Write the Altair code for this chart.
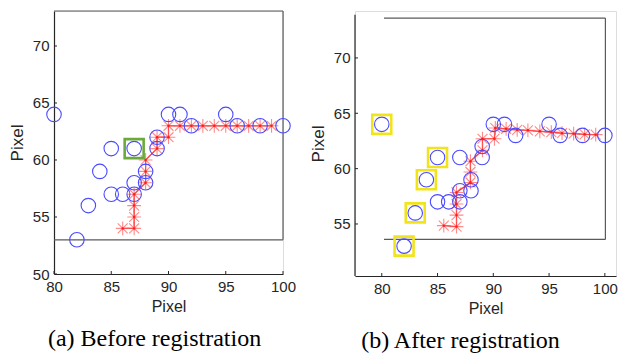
import altair as alt
import pandas as pd

# ---- data ----
blue_x = [80, 82, 83, 84, 85, 85, 86, 87, 87, 87, 88, 88, 89, 89, 90, 91, 92, 95, 96, 98, 100]
blue_y = [64, 53, 56, 59, 61, 57, 57, 61, 58, 57, 59, 58, 62, 61, 64, 64, 63, 64, 63, 63, 63]

red_a_x = [86, 87, 87, 87, 87, 88, 88, 88, 89, 89, 90, 90, 91, 92, 93, 94, 95, 96, 97, 98, 99]
red_a_y = [54, 54, 55, 56, 57, 58, 59, 60, 61, 62, 62, 63, 63, 63, 63, 63, 63, 63, 63, 63, 63]

red_b_x = [85.56, 86.7, 86.7, 86.7, 86.7, 87.95, 87.95, 87.95, 89.03, 89.03, 90.1, 90.18,
           91.15, 92.14, 93.1, 94.17, 95.2, 96.16, 97.2, 98.19, 99.18]
red_b_y = [54.85, 54.76, 55.8, 56.8, 57.85, 58.75, 59.7, 60.67, 61.66, 62.7, 62.7, 63.67,
           63.6, 63.5, 63.46, 63.37, 63.3, 63.2, 63.16, 63.1, 63.07]

green_x = [87]
green_y = [61]
yellow_x = [80, 82, 83, 84, 85]
yellow_y = [64, 53, 56, 59, 61]

x_ticks = [80, 85, 90, 95, 100]
y_ticks_a = [50, 55, 60, 65, 70]
y_ticks_b = [55, 60, 65, 70]

# inner box (x0, x1, y0, y1)
box_a = [80, 100, 53, 73.07]
box_b = [80.2, 100.05, 53.6, 73.6]
axis_b = [77.6, 50.3, 73.9]  # x of left axis, its bottom and top

captions = ["(a) Before registration", "(b) After registration"]

STAR = "M-1,0L1,0M0,-1L0,1M-0.72,-0.72L0.72,0.72M-0.72,0.72L0.72,-0.72"
FONT = "Liberation Sans"
TXT = "#262626"


def box_df(b):
    x0, x1, y0, y1 = b
    return pd.DataFrame({
        "x": [x0, x0, x1, x0],
        "x2": [x1, x1, x1, x0],
        "y": [y0, y1, y0, y1],
        "y2": [y0, y1, y1, y1],
    })


def panel(rx, ry, xdom, ydom, w, h, yticks, box, sq_x, sq_y, sq_color, title, dx, extra_axis=None):
    xs = alt.Scale(domain=xdom, nice=False, zero=False)
    ys = alt.Scale(domain=ydom, nice=False, zero=False)
    xa = alt.Axis(values=x_ticks, title="Pixel", grid=False, ticks=False, labelPadding=5,
                  labelFontSize=15, titleFontSize=16, titlePadding=4, labelFlush=False,
                  domainColor=TXT, labelColor=TXT, titleColor=TXT,
                  labelFont=FONT, titleFont=FONT, titleFontWeight="normal", domainWidth=1.2)
    ya = alt.Axis(values=yticks, title="Pixel", grid=False, ticks=False, labelPadding=5,
                  labelFontSize=15, titleFontSize=17, titlePadding=6, labelFlush=False,
                  domainColor=TXT, labelColor=TXT, titleColor=TXT,
                  labelFont=FONT, titleFont=FONT, titleFontWeight="normal", domainWidth=1.2,
                  domain=extra_axis is None)

    bdf = box_df(box)
    box_l = alt.Chart(bdf).mark_rule(color="#5a5a5a", strokeWidth=1.2).encode(
        x=alt.X("x:Q", scale=xs, axis=xa), x2="x2:Q",
        y=alt.Y("y:Q", scale=ys, axis=ya), y2="y2:Q")

    rdf = pd.DataFrame({"x": rx, "y": ry, "i": list(range(len(rx)))})
    line = alt.Chart(rdf).mark_line(color="#ff2a2a", strokeWidth=1.2).encode(
        x=alt.X("x:Q", scale=xs), y=alt.Y("y:Q", scale=ys), order="i:Q")
    stars = alt.Chart(rdf).mark_point(shape=STAR, size=190, filled=False, color="#ff5a5a",
                                      strokeWidth=1.1, opacity=0.7).encode(
        x=alt.X("x:Q", scale=xs), y=alt.Y("y:Q", scale=ys))
    dots = alt.Chart(rdf).mark_point(shape="circle", size=6, filled=True, color="#ff1a1a",
                                     opacity=1).encode(
        x=alt.X("x:Q", scale=xs), y=alt.Y("y:Q", scale=ys))

    bdf2 = pd.DataFrame({"x": blue_x, "y": blue_y})
    circles = alt.Chart(bdf2).mark_point(shape="circle", size=210, filled=False, color="#4a4aff",
                                         strokeWidth=1.1, opacity=1).encode(
        x=alt.X("x:Q", scale=xs), y=alt.Y("y:Q", scale=ys))

    sdf = pd.DataFrame({"x": sq_x, "y": sq_y})
    squares = alt.Chart(sdf).mark_point(shape="square", size=360, filled=False, color=sq_color,
                                        strokeWidth=2.6, opacity=1).encode(
        x=alt.X("x:Q", scale=xs), y=alt.Y("y:Q", scale=ys))

    xt = alt.Chart(pd.DataFrame({"v": x_ticks})).mark_rule(color=TXT, strokeWidth=1).encode(
        x=alt.X("v:Q", scale=xs), y=alt.value(h), y2=alt.value(h - 3))
    yt = alt.Chart(pd.DataFrame({"v": yticks})).mark_rule(color=TXT, strokeWidth=1).encode(
        y=alt.Y("v:Q", scale=ys), x=alt.value(0), x2=alt.value(3))

    layers = [box_l, line, stars, dots, circles, squares, xt, yt]
    if extra_axis is not None:
        ax_x, ay0, ay1 = extra_axis
        adf = pd.DataFrame({"x": [ax_x], "y": [ay0], "y2": [ay1]})
        layers.append(alt.Chart(adf).mark_rule(color=TXT, strokeWidth=1.2).encode(
            x=alt.X("x:Q", scale=xs), y=alt.Y("y:Q", scale=ys), y2="y2:Q"))

    return alt.layer(*layers).properties(
        width=w, height=h,
        title=alt.TitleParams(title, orient="bottom", font="Liberation Serif", fontSize=24,
                              fontWeight="normal", color="black", offset=13, dx=dx))


a = panel(red_a_x, red_a_y, [80, 100], [50, 73.07], 229, 263, y_ticks_a, box_a,
          green_x, green_y, "#6aaa3a", captions[0], -14)
b = panel(red_b_x, red_b_y, [77.6, 101], [50.3, 74.24], 261, 265, y_ticks_b, box_b,
          yellow_x, yellow_y, "#f2e41a", captions[1], -25, extra_axis=axis_b)

chart = alt.hconcat(a, b, spacing=72, bounds="flush").properties(
    padding={"left": 7, "top": 9, "right": 0, "bottom": 0}
).configure_view(stroke=None).configure(background="white")

chart.save("out.html", embed_options={"renderer": "svg", "actions": False})
